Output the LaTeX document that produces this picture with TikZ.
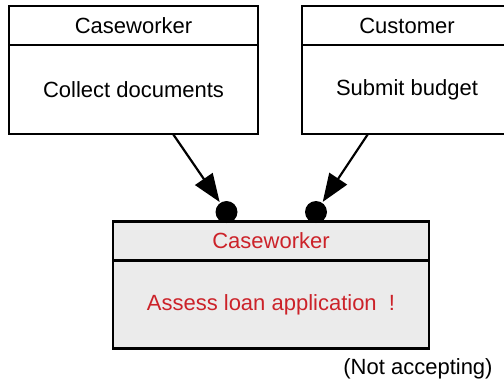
\documentclass[tikz,border=0pt]{standalone}
\usepackage{fontspec}
\setmainfont{Liberation Sans}
\usepackage{xcolor}
\usepackage{tikz}
\usetikzlibrary{positioning,arrows.meta}

\definecolor{taskred}{RGB}{204,34,41}
\definecolor{taskgray}{RGB}{235,235,235}

\begin{document}
\begin{tikzpicture}[x=1pt, y=-1pt, line width=2.2pt, >={Triangle[length=28pt,width=21pt]},
    lane/.style={draw, rectangle, outer sep=0pt, inner sep=0pt, font=\fontsize{22pt}{26pt}\selectfont},
    head/.style={lane, minimum height=39pt},
    body/.style={lane, minimum height=89pt},
    pin/.style={circle, fill=black, minimum size=22pt, inner sep=0pt}]

    \useasboundingbox (0,0) rectangle (504,383);

    % Upper left task
    \node[head, minimum width=249pt] (cwHead) at (133.5, 25.5) {Caseworker};
    \node[body, minimum width=249pt, below=0pt of cwHead] (collect) {Collect documents};

    % Upper right task (runs past the right margin)
    \node[head, minimum width=210pt] (cuHead) at (407, 25.5) {Customer};
    \node[body, minimum width=210pt, below=0pt of cuHead] (submit) {Submit budget};

    % Lower task, not accepting
    \node[head, minimum width=316pt, fill=taskgray, text=taskred] (asHead) at (271, 241) {Caseworker};
    \node[body, minimum width=316pt, minimum height=88pt, fill=taskgray, text=taskred, below=0pt of asHead] (assess) {Assess loan application\ \ !};
    \node[font=\fontsize{22pt}{26pt}\selectfont] (status) at (418, 369) {(Not accepting)};

    % Pins on the top edge of the lower task
    \node[pin] (pinL) at (226.5, 212) {};
    \node[pin] (pinR) at (316, 212) {};

    % Arrows from the upper tasks to the pins
    \draw[->] ([xshift=39.5pt]collect.south) -- (pinL);
    \draw[->] ([xshift=-39pt]submit.south) -- (pinR);

\end{tikzpicture}
\end{document}
